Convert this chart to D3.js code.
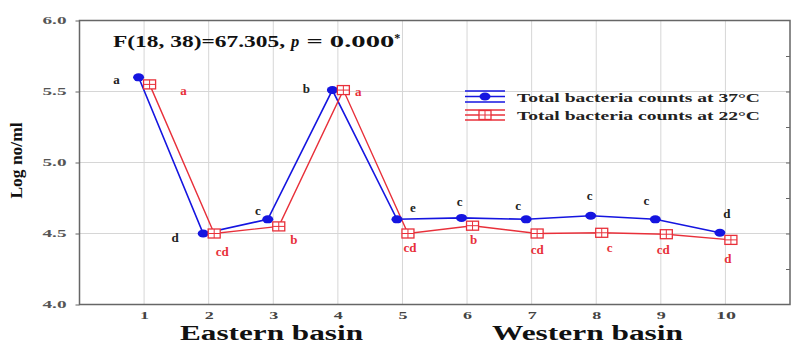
<!DOCTYPE html>
<html><head><meta charset="utf-8">
<script src="https://cdn.jsdelivr.net/npm/d3@7"></script>
<style>body{margin:0;background:#fff}svg{display:block}text{font-family:"Liberation Serif","Times New Roman",serif;font-weight:bold}</style>
</head><body><svg id="c" width="796" height="344"></svg>
<script>
const stations = [1,2,3,4,5,6,7,8,9,10];
const count37 = [5.60,4.50,4.60,5.51,4.60,4.61,4.60,4.625,4.60,4.505];
const count22 = [5.55,4.50,4.55,5.51,4.50,4.555,4.50,4.505,4.495,4.455];
const letters37 = ["a","d","c","b","e","c","c","c","c","d"];
const letters22 = ["a","cd","b","a","cd","b","cd","c","cd","d"];
const yTicks = [4.0,4.5,5.0,5.5,6.0];
const seriesNames = ["Total bacteria counts at 37°C","Total bacteria counts at 22°C"];

const svg = d3.select("#c");
const L=79.5,R=790,T=20.5,B=304.5;
const x = d3.scaleLinear().domain([0,11]).range([L,R]);
const y = d3.scaleLinear().domain([4,6]).range([B,T]);
const blue="#1515e0", red="#e8303a";
const stretch = (sel,len)=>sel.attr("textLength",len).attr("lengthAdjust","spacingAndGlyphs");

// grid
svg.append("g").selectAll("line").data(stations).join("line")
 .attr("x1",d=>x(d)).attr("x2",d=>x(d)).attr("y1",T).attr("y2",B).attr("stroke","#d6d6d6");
svg.append("g").selectAll("line").data([4.5,5,5.5]).join("line")
 .attr("x1",L).attr("x2",R).attr("y1",d=>y(d)).attr("y2",d=>y(d)).attr("stroke","#d6d6d6");

// frame
svg.append("rect").attr("x",L).attr("y",T).attr("width",R-L).attr("height",B-T).attr("fill","none").attr("stroke","#666").attr("stroke-width",1.5);

// axes
const ya = svg.append("g").attr("transform",`translate(${L},0)`).call(d3.axisLeft(y).tickValues(yTicks).tickFormat(d3.format(".1f")).tickSize(4));
ya.select(".domain").remove();
ya.selectAll("text").attr("font-size",10.5).attr("fill","#555").attr("font-family","Liberation Serif").attr("font-weight","bold").attr("dx",-6)
  .attr("textLength",24).attr("lengthAdjust","spacingAndGlyphs");
ya.selectAll("line").attr("stroke","#666");
const yr = svg.append("g").attr("transform",`translate(${R},0)`).call(d3.axisLeft(y).tickValues(d3.range(4.25,6,0.25)).tickFormat("").tickSize(4));
yr.select(".domain").remove(); yr.selectAll("line").attr("stroke","#666");
const xa = svg.append("g").attr("transform",`translate(0,${B})`).call(d3.axisBottom(x).tickValues(stations).tickFormat(d3.format("d")).tickSize(0));
xa.select(".domain").remove();
xa.selectAll("text").attr("font-size",11).attr("fill","#444").attr("font-family","Liberation Serif").attr("font-weight","bold").attr("dy","1.05em")
  .attr("textLength",d=>d>=10?20:9).attr("lengthAdjust","spacingAndGlyphs");

// axis titles
stretch(svg.append("text").attr("transform",`translate(22,${(T+B)/2-2}) rotate(-90)`).attr("text-anchor","middle").attr("font-size",16).attr("fill","#111").text("Log no/ml"),76);
stretch(svg.append("text").attr("x",180).attr("y",340).attr("font-size",20).attr("fill","#111").text("Eastern basin"),183);
stretch(svg.append("text").attr("x",492).attr("y",340).attr("font-size",20).attr("fill","#111").text("Western basin"),191);

// stat annotation
const st = svg.append("text").attr("x",113).attr("y",47).attr("font-size",16.5).attr("fill","#111");
stretch(st.append("tspan").text("F(18, 38)=67.305, "),178);
st.append("tspan").attr("font-style","italic").text("p");
stretch(st.append("tspan").text(" = 0.000"),95);
st.append("tspan").attr("dy",-5).attr("font-size",12).text("*");

const off=5.5;
const line = d3.line();
const p37 = stations.map((s,i)=>[x(s)-off,y(count37[i])]);
const p22 = stations.map((s,i)=>[x(s)+off,y(count22[i])]);
svg.append("path").attr("d",line(p37)).attr("fill","none").attr("stroke",blue).attr("stroke-width",1.6);
svg.append("path").attr("d",line(p22)).attr("fill","none").attr("stroke",red).attr("stroke-width",1.4);

function redMarker(g,cx,cy){
  g.append("rect").attr("x",cx-6).attr("y",cy-4.5).attr("width",12).attr("height",9).attr("fill","#fff").attr("stroke",red).attr("stroke-width",1.3);
  g.append("line").attr("x1",cx).attr("x2",cx).attr("y1",cy-4.5).attr("y2",cy+4.5).attr("stroke",red).attr("stroke-width",1);
  g.append("line").attr("x1",cx-6).attr("x2",cx+6).attr("y1",cy).attr("y2",cy).attr("stroke",red).attr("stroke-width",1);
}
svg.append("g").selectAll("ellipse").data(p37).join("ellipse").attr("cx",d=>d[0]).attr("cy",d=>d[1]).attr("rx",5.5).attr("ry",4).attr("fill",blue);
const rg = svg.append("g");
p22.forEach(d=>redMarker(rg,d[0],d[1]));

// letters (offsets in px relative to the marker)
const l37off = [[-22,3],[-28,4],[-10,-8],[-26,-1],[16,-11],[-2,-16],[-8,-13],[-1,-20],[-9,-18],[7,-19]];
const l22off = [[34,7],[8,18],[15,14],[15,2],[2,14],[1,14],[0,16],[8,15],[-3,16],[-3,19]];
svg.append("g").selectAll("text").data(p37).join("text")
 .attr("x",(d,i)=>d[0]+l37off[i][0]).attr("y",(d,i)=>d[1]+l37off[i][1]+4)
 .attr("text-anchor","middle").attr("font-size",13).attr("fill","#222").text((d,i)=>letters37[i]);
svg.append("g").selectAll("text").data(p22).join("text")
 .attr("x",(d,i)=>d[0]+l22off[i][0]).attr("y",(d,i)=>d[1]+l22off[i][1]+4)
 .attr("text-anchor","middle").attr("font-size",13).attr("fill",red).text((d,i)=>letters22[i]);

// legend
const lg = svg.append("g").attr("transform","translate(465,0)");
[[91,96.5,102],[110,115,120]].forEach((ys,k)=>{
  const col = k===0?blue:red;
  ys.forEach(yy=>lg.append("line").attr("x1",0).attr("x2",40).attr("y1",yy).attr("y2",yy).attr("stroke",col).attr("stroke-width",1.3));
  if(k===0) lg.append("ellipse").attr("cx",20).attr("cy",ys[1]).attr("rx",5.5).attr("ry",4).attr("fill",blue);
  else redMarker(lg,20,ys[1]);
  stretch(lg.append("text").attr("x",52).attr("y",ys[1]+5).attr("font-size",13).attr("fill","#222").text(seriesNames[k]),243);
});
</script></body></html>
